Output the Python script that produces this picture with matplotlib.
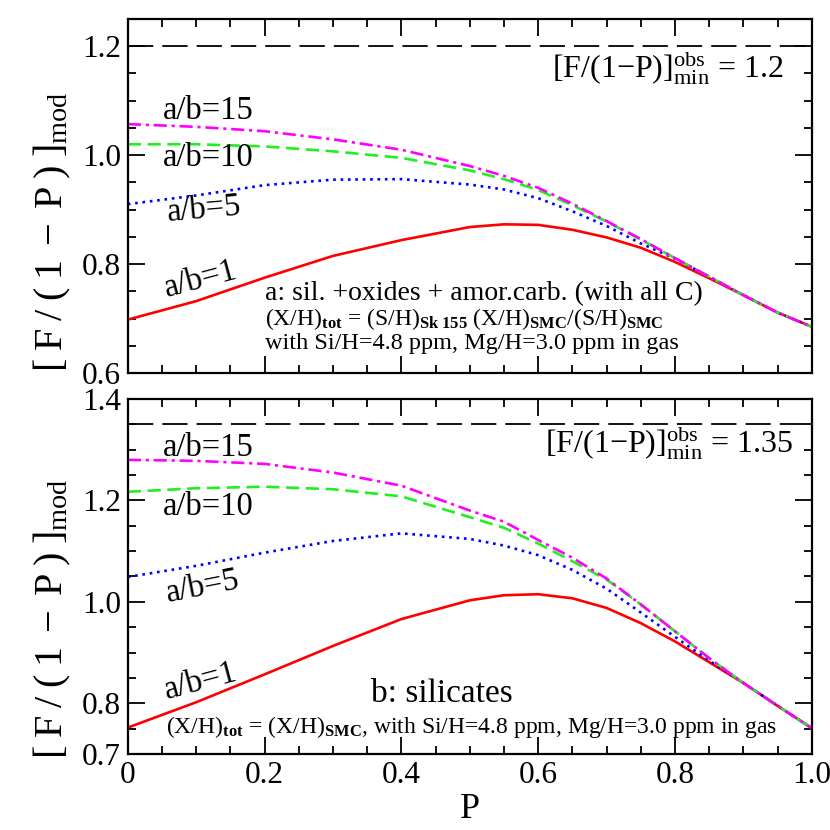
import matplotlib
matplotlib.use("Agg")
import matplotlib.pyplot as plt
from matplotlib.ticker import MultipleLocator

plt.rcParams['font.family'] = ['Liberation Serif', 'DejaVu Serif']
plt.rcParams['mathtext.fontset'] = 'custom'
plt.rcParams['mathtext.rm'] = 'Liberation Serif'
plt.rcParams['mathtext.it'] = 'Liberation Serif:italic'
plt.rcParams['mathtext.bf'] = 'Liberation Serif:bold'

P = [0.0, 0.1, 0.2, 0.3, 0.4, 0.5, 0.55, 0.6, 0.65, 0.7, 0.75, 0.8, 0.85, 0.9, 0.95, 1.0]

# Panel a: sil. + oxides + amor. carb.
a_r1 = [0.698, 0.732, 0.775, 0.815, 0.844, 0.868, 0.873, 0.872, 0.863, 0.849, 0.830, 0.804, 0.774, 0.743, 0.711, 0.685]
a_r5 = [0.910, 0.926, 0.945, 0.955, 0.956, 0.946, 0.937, 0.921, 0.897, 0.870, 0.838, 0.810, 0.777, 0.743, 0.711, 0.685]
a_r10 = [1.020, 1.020, 1.016, 1.007, 0.995, 0.972, 0.956, 0.936, 0.908, 0.878, 0.845, 0.811, 0.777, 0.743, 0.711, 0.685]
a_r15 = [1.057, 1.052, 1.044, 1.029, 1.010, 0.980, 0.962, 0.940, 0.911, 0.879, 0.846, 0.811, 0.777, 0.743, 0.711, 0.685]
a_obs = 1.2

# Panel b: silicates
b_r1 = [0.752, 0.802, 0.857, 0.913, 0.966, 1.003, 1.013, 1.015, 1.007, 0.988, 0.958, 0.922, 0.881, 0.840, 0.795, 0.751]
b_r5 = [1.049, 1.071, 1.097, 1.120, 1.135, 1.124, 1.111, 1.092, 1.063, 1.026, 0.979, 0.931, 0.884, 0.840, 0.795, 0.751]
b_r10 = [1.217, 1.224, 1.227, 1.222, 1.208, 1.167, 1.146, 1.115, 1.080, 1.044, 0.995, 0.942, 0.889, 0.840, 0.795, 0.751]
b_r15 = [1.280, 1.278, 1.272, 1.255, 1.229, 1.180, 1.158, 1.122, 1.087, 1.046, 0.995, 0.942, 0.889, 0.840, 0.795, 0.751]
b_obs = 1.35

fig = plt.figure(figsize=(8.3, 8.3), dpi=100)
ax1 = fig.add_axes([0.154, 0.5506, 0.824, 0.4265])
ax2 = fig.add_axes([0.154, 0.0916, 0.824, 0.4277])

ylab = r'$[\;\mathrm{F}\;/\;(\;1\;-\;\mathrm{P}\;)\;]_{\mathrm{mod}}$'

def style(ax, ylo, yhi, yticks, label_y):
    ax.set_xlim(0, 1)
    ax.set_ylim(ylo, yhi)
    ax.xaxis.set_major_locator(MultipleLocator(0.2))
    ax.xaxis.set_minor_locator(MultipleLocator(0.05))
    ax.yaxis.set_minor_locator(MultipleLocator(0.05))
    ax.set_yticks(yticks)
    ax.set_yticklabels([f"{t:.1f}" for t in yticks])
    ax.tick_params(which='both', direction='in', top=True, right=True, width=1.3)
    ax.tick_params(which='major', length=12, labelsize=22.5, pad=5)
    ax.tick_params(which='minor', length=6)
    for s in ax.spines.values():
        s.set_linewidth(1.6)
    ax.set_ylabel(ylab, fontsize=29)
    ax.yaxis.set_label_coords(-0.080, label_y)

def curves(ax, r1, r5, r10, r15, obs):
    ax.axhline(obs, color='black', lw=1.3, dashes=(14, 5))
    ax.plot(P, r1, color='red', lw=1.9)
    ax.plot(P, r5, color='blue', lw=1.9, ls=(0, (1, 1.8)))
    ax.plot(P, r10, color='#22ee22', lw=1.9, dashes=(5, 2.5))
    ax.plot(P, r15, color='magenta', lw=1.9, dashes=(5, 1.8, 1.2, 1.8))

fs = 23.5
obs_lab = r'[F/(1$-$P)]$^{\mathrm{obs}}_{\mathrm{min}}$'

style(ax1, 0.6, 1.25, [0.6, 0.8, 1.0, 1.2], 0.40)
curves(ax1, a_r1, a_r5, a_r10, a_r15, a_obs)
ax1.tick_params(axis='x', labelbottom=False)

ax1.text(0.051, 1.082, 'a/b=15', fontsize=fs, va='center')
ax1.text(0.051, 0.996, 'a/b=10', fontsize=fs, va='center')
ax1.text(0.112, 0.900, 'a/b=5', fontsize=fs, ha='center', va='center', rotation=5)
ax1.text(0.107, 0.772, 'a/b=1', fontsize=fs, ha='center', va='center', rotation=15)
ax1.text(0.958, 1.161, obs_lab + ' = 1.2', fontsize=23, ha='right', va='center')
ax1.text(0.2, 0.745, 'a: sil. +oxides + amor.carb. (with all C)', fontsize=20, va='center')
ax1.text(0.2, 0.700,
         r'(X/H)$_{\mathbf{tot}}$ = (S/H)$_{\mathbf{Sk\ 155}}$ (X/H)$_{\mathbf{SMC}}$/(S/H)$_{\mathbf{SMC}}$',
         fontsize=17, va='center')
ax1.text(0.2, 0.654, 'with Si/H=4.8 ppm, Mg/H=3.0 ppm in gas', fontsize=17.5, va='center')

style(ax2, 0.7, 1.4, [0.7, 0.8, 1.0, 1.2, 1.4], 0.38)
curves(ax2, b_r1, b_r5, b_r10, b_r15, b_obs)
ax2.set_xticks([0, 0.2, 0.4, 0.6, 0.8, 1.0])
ax2.set_xticklabels(['0', '0.2', '0.4', '0.6', '0.8', '1.0'])
ax2.set_xlabel('P', fontsize=26, labelpad=2)

ax2.text(0.051, 1.303, 'a/b=15', fontsize=fs, va='center')
ax2.text(0.051, 1.187, 'a/b=10', fontsize=fs, va='center')
ax2.text(0.110, 1.029, 'a/b=5', fontsize=fs, ha='center', va='center', rotation=11)
ax2.text(0.107, 0.844, 'a/b=1', fontsize=fs, ha='center', va='center', rotation=15)
ax2.text(0.972, 1.313, obs_lab + ' = 1.35', fontsize=23, ha='right', va='center')
ax2.text(0.459, 0.818, 'b: silicates', fontsize=24, ha='center', va='center')
ax2.text(0.503, 0.753,
         r'(X/H)$_{\mathbf{tot}}$ = (X/H)$_{\mathbf{SMC}}$, with Si/H=4.8 ppm, Mg/H=3.0 ppm in gas',
         fontsize=17, ha='center', va='center')

fig.savefig('out.png', dpi=100)
